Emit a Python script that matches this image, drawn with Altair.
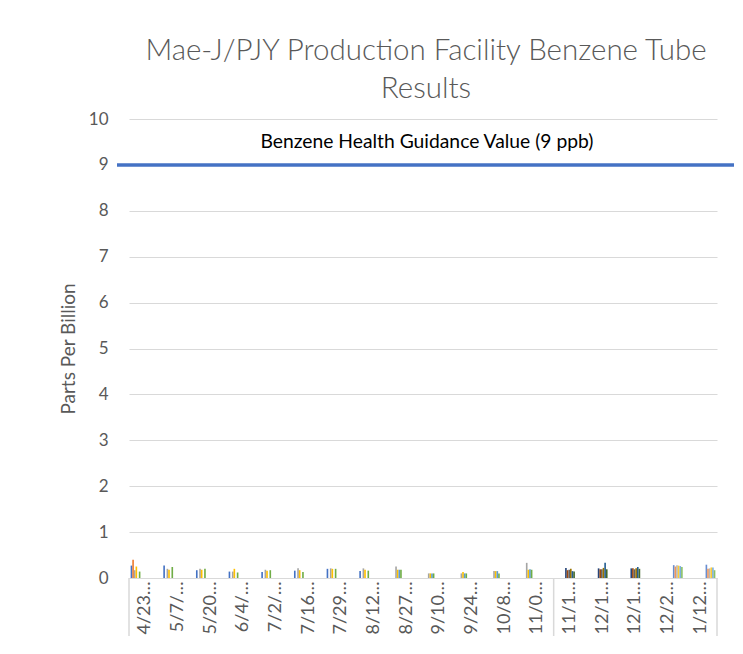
import altair as alt
import pandas as pd

# ---------------- data ----------------
title_lines = ["Mae-J/PJY Production Facility Benzene Tube", "Results"]
y_title = "Parts Per Billion"
guidance_label = "Benzene Health Guidance Value (9 ppb)"
guidance_value = 9
guidance_label_pos = 9.5

date_labels = ["4/23…", "5/7/…", "5/20…", "6/4/…", "7/2/…", "7/16…", "7/29…",
               "8/12…", "8/27…", "9/10…", "9/24…", "10/8…", "11/0…",
               "11/1…", "12/1…", "12/1…", "12/2…", "1/12…"]

series_names = ["Tube 1", "Tube 2", "Tube 3", "Tube 4", "Tube 5", "Tube 6",
                "Tube 7", "Tube 8", "Tube 9", "Tube 10", "Tube 11", "Tube 12",
                "Tube 13", "Tube 14", "Tube 15", "Tube 16", "Tube 17", "Tube 18"]

series_colors = ["#4472C4", "#ED7D31", "#A5A5A5", "#FFC000", "#5B9BD5", "#70AD47",
                 "#264478", "#9E480E", "#636363", "#997300", "#255E91", "#43682B",
                 "#698ED0", "#F1975A", "#B7B7B7", "#FFCD33", "#7CAFDD", "#8CC168"]

# group 1: dates 1-13, series 1-6
group1_dates = [0, 1, 2, 3, 4, 5, 6, 7, 8, 9, 10, 11, 12]
g1_s1 = [0.27, 0.27, 0.17, 0.14, 0.13, 0.16, 0.20, 0.15, None, None, None, None, None]
g1_s2 = [0.40, None, None, None, None, None, None, None, None, None, None, None, None]
g1_s3 = [0.17, 0.20, 0.20, 0.14, 0.18, 0.21, 0.21, 0.21, 0.25, 0.10, 0.10, 0.15, 0.33]
g1_s4 = [0.25, 0.18, 0.18, 0.20, 0.16, 0.17, 0.20, 0.18, 0.18, 0.10, 0.13, 0.15, 0.18]
g1_s5 = [None, None, None, None, None, None, None, None, 0.18, 0.10, 0.10, 0.15, 0.19]
g1_s6 = [0.14, 0.24, 0.20, 0.12, 0.17, 0.13, 0.20, 0.16, 0.18, 0.10, 0.10, 0.10, 0.18]

# group 2: dates 14-16, series 7-12
group2_dates = [13, 14, 15]
g2_s7 = [0.22, 0.21, 0.21]
g2_s8 = [0.17, 0.19, 0.21]
g2_s9 = [0.18, 0.19, 0.19]
g2_s10 = [0.20, 0.22, 0.21]
g2_s11 = [0.15, 0.33, 0.24]
g2_s12 = [0.14, 0.19, 0.20]

# group 3: dates 17-18, series 13-18
group3_dates = [16, 17]
g3_s13 = [0.28, 0.29]
g3_s14 = [0.25, 0.20]
g3_s15 = [0.28, 0.21]
g3_s16 = [0.27, 0.23]
g3_s17 = [0.26, 0.23]
g3_s18 = [0.24, 0.17]

group_starts = [0, 13]
group_ends = [17]

# ---------------- build table ----------------
groups = [
    (group1_dates, [g1_s1, g1_s2, g1_s3, g1_s4, g1_s5, g1_s6], 0),
    (group2_dates, [g2_s7, g2_s8, g2_s9, g2_s10, g2_s11, g2_s12], 6),
    (group3_dates, [g3_s13, g3_s14, g3_s15, g3_s16, g3_s17, g3_s18], 12),
]
rows = []
for dates, series_lists, first in groups:
    for j, vals in enumerate(series_lists):
        for d, v in zip(dates, vals):
            if v is not None:
                rows.append({"idx": d, "series": series_names[first + j], "ppb": v})
df = pd.DataFrame(rows)

# ---------------- chart ----------------
FONT = "Lato"
GREY_TXT = "#595959"
GRID = "#D9D9D9"
W, H = 588, 459

label_expr = "[" + ",".join("'" + l + "'" for l in date_labels) + "][datum.value]"
x_scale = alt.Scale(domain=list(range(len(date_labels))), paddingInner=0, paddingOuter=0)

bars = alt.Chart(df).mark_bar().encode(
    x=alt.X("idx:O", scale=x_scale,
            axis=alt.Axis(title=None, labelExpr=label_expr, labelAngle=270,
                          labelAlign="right", labelBaseline="middle", labelPadding=3,
                          labelFont=FONT, labelFontSize=18, labelColor=GREY_TXT,
                          labelOverlap=False, ticks=False, grid=False,
                          domainColor=GRID, domainWidth=1)),
    xOffset=alt.XOffset("series:N",
                        scale=alt.Scale(domain=series_names, paddingInner=0, paddingOuter=1)),
    y=alt.Y("ppb:Q", scale=alt.Scale(domain=[0, 10]),
            axis=alt.Axis(title=y_title, values=list(range(11)), domain=False, ticks=False,
                          gridColor=GRID, gridWidth=1, labelPadding=21,
                          labelFont=FONT, labelFontSize=17, labelColor=GREY_TXT,
                          titleFont=FONT, titleFontSize=19, titleFontWeight="normal",
                          titleColor=GREY_TXT, titleX=-61, titleBaseline="middle")),
    color=alt.Color("series:N", scale=alt.Scale(domain=series_names, range=series_colors),
                    legend=None),
)

guide = alt.Chart(pd.DataFrame({"v": [guidance_value]})).mark_rule(
    color="#4472C4", strokeWidth=3.5
).encode(y=alt.datum(guidance_value), x=alt.value(-12), x2=alt.value(W + 17))

guide_text = alt.Chart(pd.DataFrame({"label": [guidance_label]})).mark_text(
    font=FONT, fontSize=19.3, color="#000000", baseline="middle", align="center"
).encode(text="label:N", y=alt.datum(guidance_label_pos), x=alt.value(298))

div_start = alt.Chart(pd.DataFrame({"idx": group_starts})).mark_rule(
    color=GRID, strokeWidth=1.5
).encode(x=alt.X("idx:O", bandPosition=0), y=alt.value(H), y2=alt.value(H + 60))

div_end = alt.Chart(pd.DataFrame({"idx": group_ends})).mark_rule(
    color=GRID, strokeWidth=1.5
).encode(x=alt.X("idx:O", bandPosition=1), y=alt.value(H), y2=alt.value(H + 60))

chart = alt.layer(bars, guide, guide_text, div_start, div_end).properties(
    width=W, height=H,
    title=alt.Title(text=title_lines, font=FONT, fontSize=29.5, fontWeight=300,
                    color=GREY_TXT, anchor="middle", offset=6, lineHeight=38, dx=3),
    autosize=alt.AutoSizeParams(type="none"),
    padding={"left": 121, "top": 111, "right": 17, "bottom": 58},
    background="white",
).configure_view(stroke=None)

chart.save("out.html", embed_options={"renderer": "svg", "actions": False})
